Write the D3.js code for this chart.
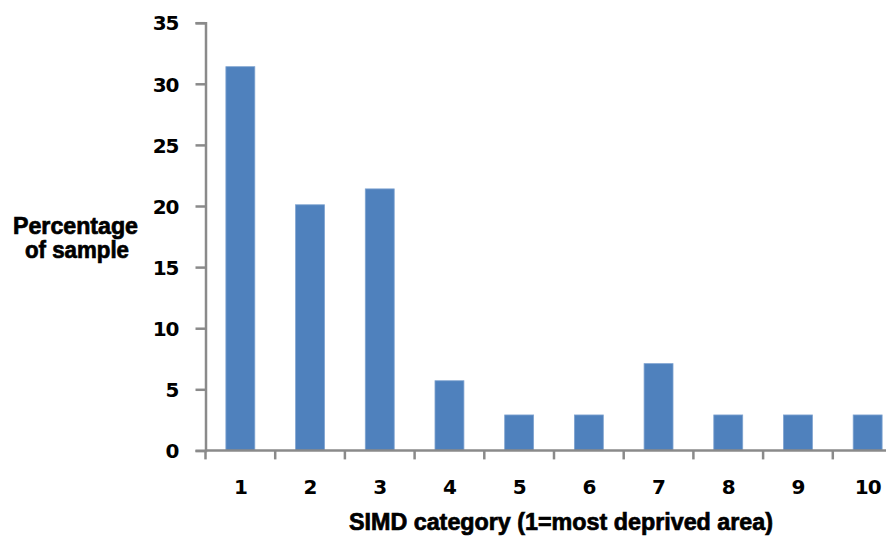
<!DOCTYPE html>
<html>
<head>
<meta charset="utf-8">
<script src="https://cdn.jsdelivr.net/npm/d3@7"></script>
<style>
  html, body { margin: 0; padding: 0; background: #fff; }
  svg { display: block; }
</style>
</head>
<body>
<svg id="chart" width="886" height="536"></svg>
<script>
const categories = ["1", "2", "3", "4", "5", "6", "7", "8", "9", "10"];
const values = [31.4, 20.1, 21.4, 5.7, 2.9, 2.9, 7.1, 2.9, 2.9, 2.9];
const yTicks = [0, 5, 10, 15, 20, 25, 30, 35];
const xTitle = "SIMD category (1=most deprived area)";
const yTitle = ["Percentage", "of sample"];

const svg = d3.select("#chart");
const axisColor = "#8a8a8a";
const barColor = "#4F81BD";

const x = d3.scaleBand().domain(categories).range([205.5, 902.5]).paddingInner(0.585).paddingOuter(0.2925);
const y = d3.scaleLinear().domain([0, 35]).range([450.4, 22.7]);

// bars
svg.append("g").selectAll("rect").data(values).join("rect")
  .attr("x", (d, i) => x(categories[i]))
  .attr("y", d => y(d))
  .attr("width", x.bandwidth())
  .attr("height", d => y(0) - y(d))
  .attr("fill", barColor)
  .attr("stroke", "#7fa3d0")
  .attr("stroke-width", 0.8);

// y axis
const yAxis = d3.axisLeft(y).tickValues(yTicks).tickSize(10).tickPadding(17).tickFormat(d3.format("d"));
const gy = svg.append("g").attr("transform", "translate(205.5,0)").call(yAxis);
gy.select(".domain").attr("stroke", axisColor).attr("stroke-width", 2.5);
gy.selectAll(".tick line").attr("stroke", axisColor).attr("stroke-width", 2.5);
gy.selectAll(".tick text")
  .attr("fill", "#000")
  .style("font-family", "'DejaVu Sans', sans-serif")
  .style("font-weight", "bold")
  .style("font-size", "20px")
  .style("letter-spacing", "-1px")
  .attr("dy", "0.36em");

// x axis (ticks at band boundaries)
const gx = svg.append("g").attr("transform", "translate(0,450.4)");
gx.append("line")
  .attr("x1", 205.5).attr("x2", 886)
  .attr("stroke", axisColor).attr("stroke-width", 2.5);
const step = x.step();
const boundaries = categories.map(c => x(c) - (step - x.bandwidth()) / 2);
gx.selectAll("line.tk").data(boundaries).join("line")
  .attr("class", "tk")
  .attr("x1", d => d).attr("x2", d => d)
  .attr("y1", 0).attr("y2", 9)
  .attr("stroke", axisColor).attr("stroke-width", 2.5);
gx.selectAll("text").data(categories).join("text")
  .attr("x", d => x(d) + x.bandwidth() / 2)
  .attr("y", 44)
  .attr("text-anchor", "middle")
  .attr("fill", "#000")
  .style("font-family", "'DejaVu Sans', sans-serif")
  .style("font-weight", "bold")
  .style("font-size", "20px")
  .style("letter-spacing", "-1px")
  .text(d => d);

// x title
svg.append("text")
  .attr("x", 349).attr("y", 530)
  .attr("textLength", 424).attr("lengthAdjust", "spacingAndGlyphs")
  .attr("fill", "#000")
  .attr("stroke", "#000").attr("stroke-width", 0.7)
  .style("font-family", "'Liberation Sans', Arial, sans-serif")
  .style("font-weight", "bold")
  .style("font-size", "23px")
  .text(xTitle);

// y title
const yTitleX = [13, 25];
const yTitleW = [125, 104];
svg.append("g").selectAll("text").data(yTitle).join("text")
  .attr("x", (d, i) => yTitleX[i])
  .attr("y", (d, i) => 234 + i * 24)
  .attr("textLength", (d, i) => yTitleW[i]).attr("lengthAdjust", "spacingAndGlyphs")
  .attr("fill", "#000")
  .attr("stroke", "#000").attr("stroke-width", 0.7)
  .style("font-family", "'Liberation Sans', Arial, sans-serif")
  .style("font-weight", "bold")
  .style("font-size", "23px")
  .text(d => d);
</script>
</body>
</html>
